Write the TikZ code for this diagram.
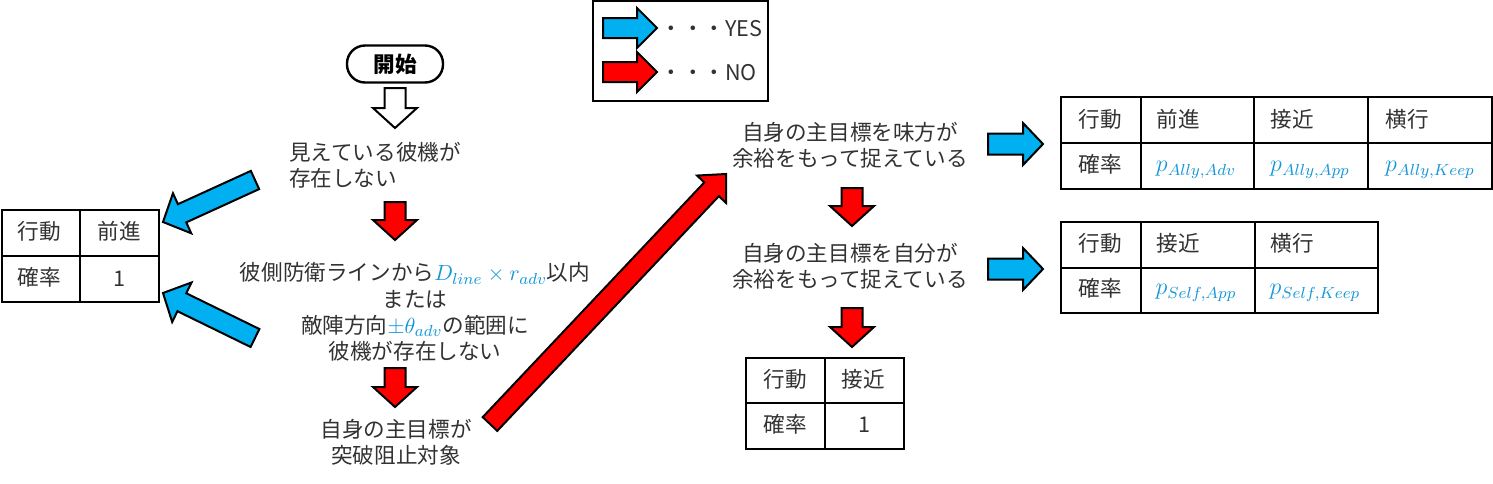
\documentclass[tikz,border=0pt]{standalone}
\usepackage{fontspec}
\setmainfont{Noto Sans CJK JP}
\usetikzlibrary{calc}
\definecolor{yesblue}{RGB}{0,176,240}
\definecolor{nored}{RGB}{255,0,0}
\definecolor{mathblue}{RGB}{20,150,215}
\definecolor{textgray}{RGB}{50,50,50}
\newcommand{\jpfont}{\fontsize{10.8}{13.2}\selectfont}
\newcommand{\probfont}{\fontsize{12}{14}\selectfont}
\tikzset{
  yesarrow/.style={fill=yesblue,draw=black,line width=1pt},
  noarrow/.style={fill=nored,draw=black,line width=1pt},
  startarrow/.style={fill=white,draw=black,line width=1pt},
  gridline/.style={draw=black,line width=1.3pt},
  question/.style={align=center,text=textgray,font=\jpfont,inner sep=0pt},
  cell/.style={text=textgray,font=\jpfont,inner sep=0pt},
  probcell/.style={text=mathblue,font=\probfont,inner sep=0pt},
  startbox/.style={
    draw=black,
    line width=1.2pt,
    rounded corners=9pt,
    minimum width=48pt,
    minimum height=18.5pt,
    font=\jpfont\bfseries
  }
}
% block arrow: style, tail, tip, body half width, head half width, head length
\newcommand{\blockarrow}[6]{%
  \coordinate (ba-base) at ($(#3)!#6!(#2)$);
  \draw[#1] ($(#2)!#4!-90:(#3)$) -- ($(ba-base)!#4!-90:(#3)$)
    -- ($(ba-base)!#5!-90:(#3)$) -- (#3)
    -- ($(ba-base)!#5!90:(#3)$) -- ($(ba-base)!#4!90:(#3)$)
    -- ($(#2)!#4!90:(#3)$) -- cycle;
}
% table frame: x0, y0, x1, y1, column dividers, row divider
\newcommand{\actgrid}[6]{%
  \draw[gridline] (#1,#2) rectangle (#3,#4);
  \draw[gridline] (#1,#6) -- (#3,#6);
  \foreach \cx in {#5} {\draw[gridline] (\cx,#2) -- (\cx,#4);}
}

\begin{document}
\begin{tikzpicture}[x=0.5pt,y=-0.5pt]
  \useasboundingbox (0,0) rectangle (1493,483);

  % Legend
  \draw[line width=1.3pt] (593,1) rectangle (768,101);
  \coordinate (yes-tail) at (603,28);
  \coordinate (yes-tip) at (657,28);
  \coordinate (no-tail) at (603,72);
  \coordinate (no-tip) at (657,72);
  \blockarrow{yesarrow}{yes-tail}{yes-tip}{5pt}{10pt}{10pt}
  \blockarrow{noarrow}{no-tail}{no-tip}{5pt}{10pt}{10pt}
  \node[cell,anchor=west] (yeslbl) at (660,29) {・・・YES};
  \node[cell,anchor=west] (nolbl) at (660,73) {・・・NO};

  % Left column
  \node[startbox] (start) at (395,64) {開始};
  \node[question,align=left] (seeq) at (375,165)
    {見えている彼機が\\存在しない};
  \node[question] (lineq) at (415,312)
    {彼側防衛ラインから\textcolor{mathblue}{$D_{line}\times r_{adv}$}以内\\または\\敵陣方向\textcolor{mathblue}{$\pm\theta_{adv}$}の範囲に\\彼機が存在しない};
  \node[question] (targetq) at (396,442)
    {自身の主目標が\\突破阻止対象};

  \coordinate (start-out) at (395,88);
  \coordinate (seeq-in) at (395,128);
  \blockarrow{startarrow}{start-out}{seeq-in}{5.25pt}{11pt}{10pt}
  \coordinate (seeq-out) at (395,202);
  \coordinate (lineq-in) at (395,240);
  \blockarrow{noarrow}{seeq-out}{lineq-in}{5.25pt}{11pt}{10pt}
  \coordinate (lineq-out) at (395,368);
  \coordinate (targetq-in) at (395,407);
  \blockarrow{noarrow}{lineq-out}{targetq-in}{5.25pt}{11pt}{10pt}

  % Table: advance
  \actgrid{2}{210}{159}{302}{80}{256}
  \node[cell] (tabA-act) at (39,231) {行動};
  \node[cell] (tabA-fwd) at (119,231) {前進};
  \node[cell] (tabA-prob) at (39,277) {確率};
  \node[cell] (tabA-one) at (119,279) {1};

  \coordinate (seeq-yes) at (255,180);
  \coordinate (tabA-top) at (163,222);
  \blockarrow{yesarrow}{seeq-yes}{tabA-top}{5pt}{11pt}{10.5pt}
  \coordinate (lineq-yes) at (255,338);
  \coordinate (tabA-bot) at (163,293);
  \blockarrow{yesarrow}{lineq-yes}{tabA-bot}{5pt}{11pt}{10.5pt}

  % Right column
  \node[question] (allyq) at (850,145)
    {自身の主目標を味方が\\余裕をもって捉えている};
  \node[question] (selfq) at (850,266)
    {自身の主目標を自分が\\余裕をもって捉えている};

  \coordinate (targetq-no) at (490,424);
  \coordinate (allyq-in) at (726,174);
  \blockarrow{noarrow}{targetq-no}{allyq-in}{5pt}{10pt}{10.5pt}
  \coordinate (allyq-out) at (852,188);
  \coordinate (selfq-in) at (852,226);
  \blockarrow{noarrow}{allyq-out}{selfq-in}{5.25pt}{11pt}{10pt}
  \coordinate (selfq-out) at (852,308);
  \coordinate (tabC-in) at (852,347);
  \blockarrow{noarrow}{selfq-out}{tabC-in}{5.25pt}{11pt}{10pt}

  % Table: approach
  \actgrid{746}{358}{904}{449}{825}{403}
  \node[cell] (tabC-act) at (785,379) {行動};
  \node[cell] (tabC-app) at (863,379) {接近};
  \node[cell] (tabC-prob) at (785,424) {確率};
  \node[cell] (tabC-one) at (864,425) {1};

  % Table: ally holds target
  \coordinate (allyq-yes) at (988,144);
  \coordinate (tabB-in) at (1043,144);
  \blockarrow{yesarrow}{allyq-yes}{tabB-in}{5.25pt}{10.5pt}{10pt}
  \actgrid{1061}{97}{1492}{189}{1141,1254,1368}{143}
  \node[cell] (tabB-act) at (1100,119) {行動};
  \node[cell] (tabB-adv) at (1178,119) {前進};
  \node[cell] (tabB-app) at (1292,119) {接近};
  \node[cell] (tabB-keep) at (1407,119) {横行};
  \node[cell] (tabB-prob) at (1100,164) {確率};
  \node[probcell] (tabB-padv) at (1196,170) {$p_{Ally,Adv}$};
  \node[probcell] (tabB-papp) at (1310,170) {$p_{Ally,App}$};
  \node[probcell] (tabB-pkeep) at (1430,170) {$p_{Ally,Keep}$};

  % Table: self holds target
  \coordinate (selfq-yes) at (988,269);
  \coordinate (tabD-in) at (1043,269);
  \blockarrow{yesarrow}{selfq-yes}{tabD-in}{5.25pt}{10.5pt}{10pt}
  \actgrid{1061}{222}{1378}{313}{1141,1255}{268}
  \node[cell] (tabD-act) at (1100,243) {行動};
  \node[cell] (tabD-app) at (1178,243) {接近};
  \node[cell] (tabD-keep) at (1292,243) {横行};
  \node[cell] (tabD-prob) at (1100,288) {確率};
  \node[probcell] (tabD-papp) at (1196,293) {$p_{Self,App}$};
  \node[probcell] (tabD-pkeep) at (1315,293) {$p_{Self,Keep}$};
\end{tikzpicture}
\end{document}
